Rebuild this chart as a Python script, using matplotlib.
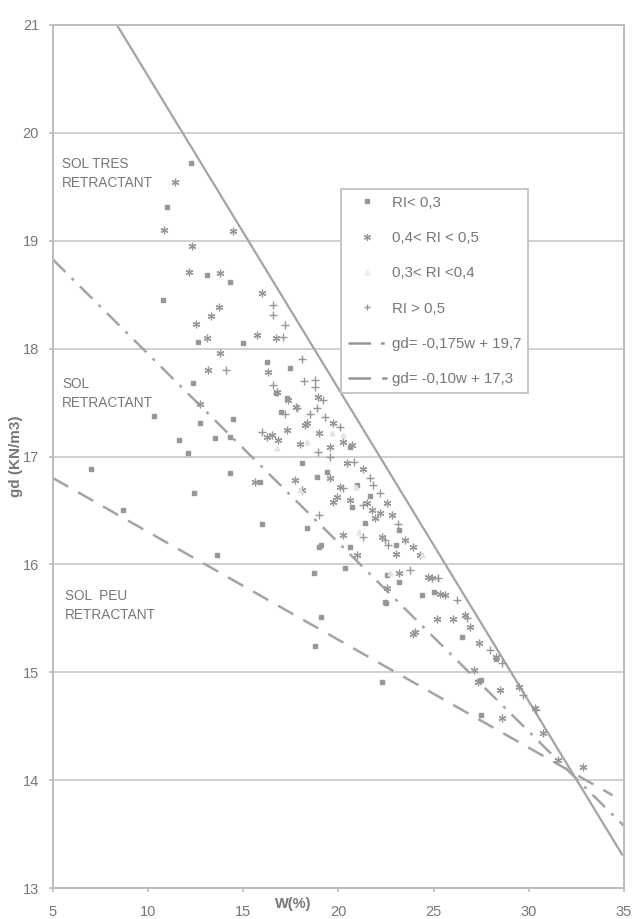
import matplotlib.pyplot as plt
from matplotlib.lines import Line2D
import numpy as np

plt.rcParams["font.family"] = ["Liberation Sans", "DejaVu Sans"]

GRID = "#c8c8c8"
INK = "#777777"
MARK = "#979797"
LINE = "#a4a4a4"

# RI < 0,3  (small square dots)
w_low = [12.25, 11.0, 13.1, 14.3, 10.8, 12.6, 15.0, 16.25, 17.45, 12.35, 16.7, 17.3,
         10.3, 12.7, 14.45, 11.6, 13.5, 14.3, 12.1, 7.0, 14.3, 18.1, 12.4, 8.7, 16.0,
         18.35, 13.6, 18.7, 19.1, 19.1, 18.77, 22.3, 22.5, 26.5, 27.5, 28.3, 27.5,
         22.45, 22.55, 23.2, 20.35, 21.4, 19.0, 20.6, 24.4, 25.0, 17.0, 15.9, 19.4,
         20.95, 21.65, 20.7, 18.85, 20.6, 23.0, 23.2]
gd_low = [19.72, 19.31, 18.68, 18.62, 18.45, 18.06, 18.05, 17.88, 17.82, 17.68, 17.59, 17.54,
          17.38, 17.31, 17.35, 17.15, 17.17, 17.18, 17.03, 16.88, 16.85, 16.94, 16.66, 16.5, 16.37,
          16.34, 16.09, 15.92, 16.18, 15.51, 15.24, 14.91, 15.64, 15.33, 14.93, 15.12, 14.6,
          15.65, 15.9, 15.84, 15.97, 16.38, 16.16, 16.16, 15.72, 15.74, 17.41, 16.76, 16.86,
          16.74, 16.63, 16.53, 16.81, 17.09, 16.18, 16.32]

# 0,4 < RI < 0,5  (asterisk)
w_mid = [11.4, 10.85, 14.46, 12.3, 12.15, 13.8, 16.0, 13.7, 13.3, 12.5, 13.1, 15.7, 16.7,
         13.8, 16.3, 13.15, 12.7, 17.75, 16.8, 16.5, 18.0, 15.6, 17.7, 18.1, 19.0, 19.7,
         20.25, 20.6, 21.5, 21.75, 22.8, 21.9, 20.25, 22.3, 23.0, 24.3, 20.95, 23.2, 22.55,
         24.9, 25.35, 23.5, 23.9, 24.7, 25.6, 26.0, 26.9, 23.9, 27.4, 28.3, 27.35, 28.6,
         29.5, 30.3, 32.85, 25.2, 26.65, 28.5, 19.9, 20.1, 19.7, 18.35, 17.3, 16.25, 20.45,
         21.3, 22.2, 19.55, 18.25, 19.55, 17.35, 16.77, 18.9, 20.7, 22.55, 24.0, 27.1,
         31.55, 30.75]
gd_mid = [19.54, 19.1, 19.09, 18.95, 18.71, 18.7, 18.52, 18.39, 18.3, 18.23, 18.1, 18.13, 18.1,
          17.96, 17.78, 17.8, 17.49, 17.46, 17.15, 17.2, 17.12, 16.76, 16.78, 16.69, 17.22, 17.31,
          17.13, 16.6, 16.57, 16.5, 16.46, 16.43, 16.27, 16.25, 16.1, 16.09, 16.09, 15.92, 15.78,
          15.87, 15.73, 16.23, 16.16, 15.88, 15.72, 15.49, 15.42, 15.35, 15.27, 15.14, 14.91, 14.58,
          14.86, 14.67, 14.12, 15.49, 15.53, 14.84, 16.62, 16.72, 16.58, 17.31, 17.25, 17.18, 16.94,
          16.88, 16.48, 16.8, 17.29, 17.09, 17.52, 17.6, 17.55, 17.11, 16.57, 15.37, 15.02,
          14.19, 14.44]

# 0,3 < RI < 0,4  (very faint)
w_faint = [16.77, 18.35, 20.25, 19.65, 22.7, 25.2, 24.4, 20.9, 17.97, 21.1]
gd_faint = [17.08, 17.13, 17.2, 17.22, 15.92, 15.87, 16.09, 16.72, 16.69, 16.3]

# RI > 0,5  (plus)
w_high = [16.56, 16.56, 17.2, 17.1, 14.1, 18.2, 16.57, 18.1, 18.77, 18.85, 19.2, 17.2, 18.5,
          19.3, 16.0, 18.9, 19.55, 20.8, 21.65, 20.25, 21.8, 21.3, 22.2, 23.1, 21.3, 22.6,
          23.75, 25.25, 26.2, 26.75, 27.95, 28.6, 29.7, 30.4, 18.77, 17.8, 20.1, 19.0, 22.45]
gd_high = [18.4, 18.31, 18.22, 18.11, 17.8, 17.7, 17.66, 17.9, 17.64, 17.45, 17.52, 17.39, 17.39,
           17.37, 17.23, 17.04, 17.0, 16.95, 16.8, 16.71, 16.74, 16.55, 16.66, 16.37, 16.25, 16.18,
           15.95, 15.87, 15.67, 15.5, 15.21, 15.09, 14.79, 14.65, 17.71, 17.45, 17.27, 16.46, 16.23]

# saturation line
w_sat = [8.36, 34.9]
gd_sat = [21.0, 13.31]

# fitted lines from the legend
fit1 = (-0.175, 19.7)
fit2 = (-0.10, 17.3)
w_fit1 = [5, 35]
w_fit2 = [5, 34.4]

fig = plt.figure(figsize=(6.34, 9.19), dpi=100)
ax = fig.add_axes([53 / 634, 1 - 888 / 919, 571 / 634, 863 / 919])

ax.set_xlim(5, 35)
ax.set_ylim(13, 21)
ax.set_xticks(range(5, 36, 5))
ax.set_yticks(range(13, 22))
ax.yaxis.grid(True, color=GRID, linewidth=1.2)
ax.set_axisbelow(True)
for sp in ax.spines.values():
    sp.set_color("#bcbcbc")
    sp.set_linewidth(1.4)
ax.tick_params(colors="#bcbcbc", labelcolor=INK, labelsize=10.5, length=3, width=1.2)
ax.tick_params(axis="x", pad=9)
ax.tick_params(axis="y", pad=7)

ax.plot(w_sat, gd_sat, color=LINE, lw=1.6, zorder=2)
x1 = np.array(w_fit1)
ax.plot(x1, fit1[0] * x1 + fit1[1], color=LINE, lw=1.8,
        dashes=(7, 3.5, 1.2, 3.5), zorder=2)
x2 = np.array(w_fit2)
ax.plot(x2, fit2[0] * x2 + fit2[1], color=LINE, lw=1.8, dashes=(7, 4.5), zorder=2)

ax.plot(w_low, gd_low, ls="none", marker="s", ms=2.4, color=MARK, mec=MARK, zorder=3)
ax.plot(w_mid, gd_mid, ls="none", marker=(6, 2, 0), ms=5.5, mew=0.9, color=MARK, zorder=3)
ax.plot(w_faint, gd_faint, ls="none", marker="^", ms=3.5, color="#e4e4e4", mec="#e4e4e4", zorder=3)
ax.plot(w_high, gd_high, ls="none", marker="+", ms=5.5, mew=1.0, color=MARK, zorder=3)

txt = dict(fontsize=9.8, color=INK, va="top", ha="left", linespacing=1.45)
ax.text(5.47, 19.78, "SOL TRES\nRETRACTANT", **txt)
ax.text(5.47, 17.74, "SOL\nRETRACTANT", **txt)
ax.text(5.63, 15.77, "SOL  PEU\nRETRACTANT", **txt)

handles = [
    Line2D([], [], ls="none", marker="s", ms=2.4, color=MARK),
    Line2D([], [], ls="none", marker=(6, 2, 0), ms=5, mew=0.9, color=MARK),
    Line2D([], [], ls="none", marker="^", ms=3.5, color="#ececec"),
    Line2D([], [], ls="none", marker="+", ms=5, mew=1.0, color=MARK),
    Line2D([], [], color="#959595", lw=1.8, dashes=(9, 4, 1.5, 4)),
    Line2D([], [], color="#959595", lw=1.8, dashes=(9, 4.5)),
]
labels = ["RI< 0,3", "0,4< RI < 0,5", "0,3< RI <0,4", "RI > 0,5",
          "gd= -0,175w + 19,7", "gd= -0,10w + 17,3"]
leg = ax.legend(handles, labels, loc="upper left", bbox_to_anchor=(0.504, 0.810),
                fontsize=10.8, labelspacing=1.42, borderpad=0.45, handlelength=2.6,
                handletextpad=0.35, fancybox=False, framealpha=1, edgecolor="#c2c2c2",
                borderaxespad=0)
for t in leg.get_texts():
    t.set_color(INK)
leg.get_frame().set_linewidth(1.3)

ax.set_ylabel("gd (KN/m3)", fontsize=11, fontweight="bold", color=INK)
ax.yaxis.set_label_coords(-0.053, 0.5)
ax.set_xlabel("W(%)", fontsize=10.5, fontweight="bold", color=INK)
ax.xaxis.set_label_coords(0.42, -0.011)

fig.savefig("out.png", dpi=100, facecolor="white")
